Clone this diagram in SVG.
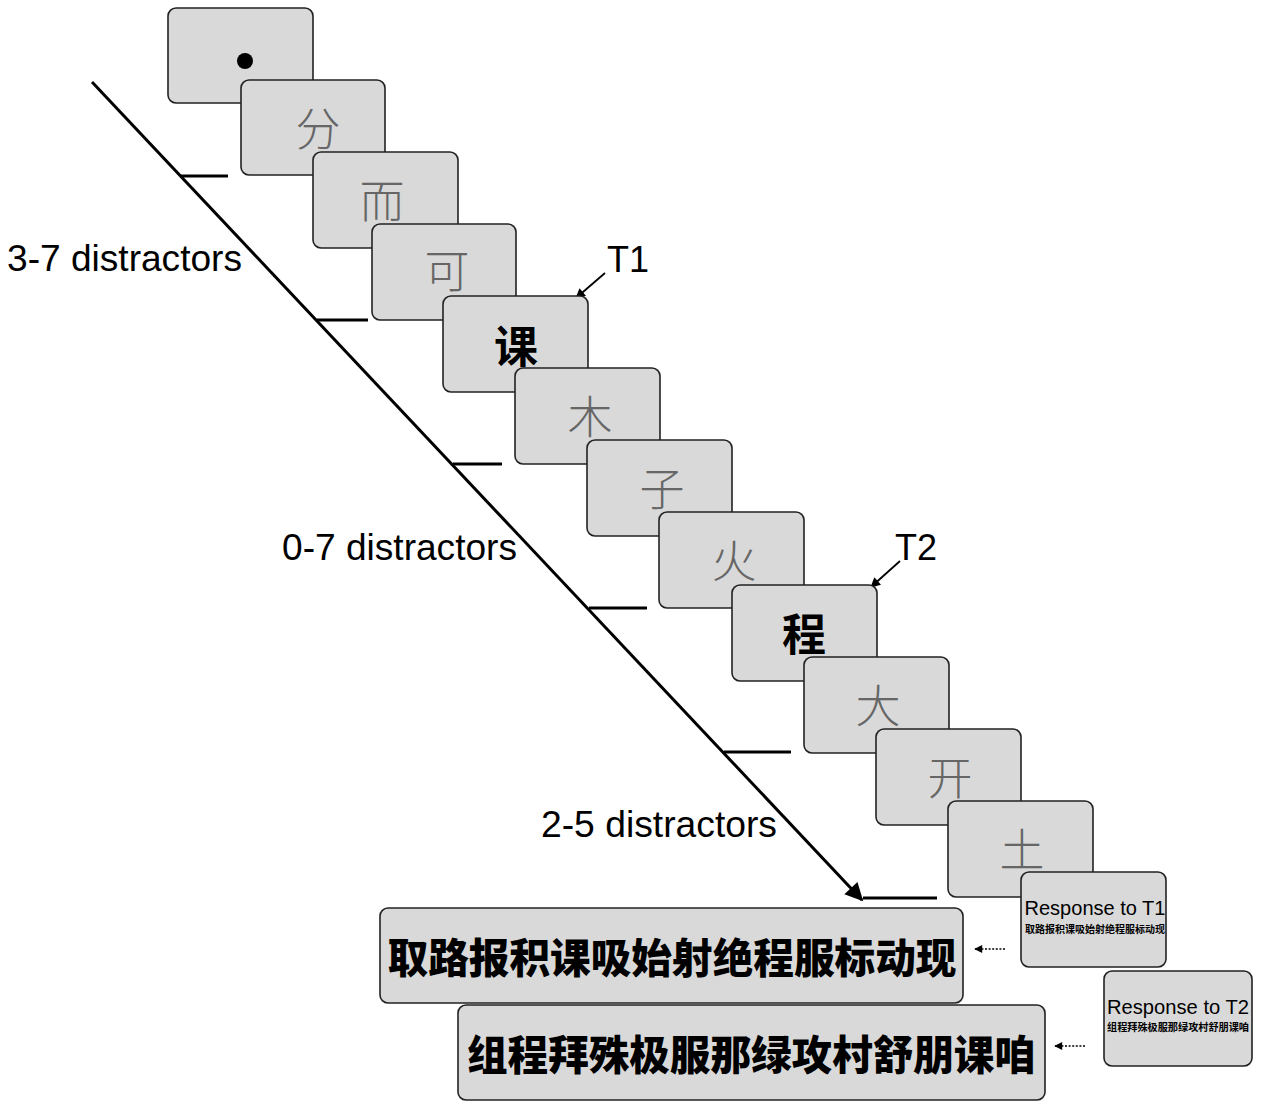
<svg xmlns="http://www.w3.org/2000/svg" width="1281" height="1109" viewBox="0 0 1281 1109">
<defs>
<style>
.box{fill:#d9d9d9;stroke:#222;stroke-width:1.6}
.d{font-family:"Noto Sans CJK SC","Noto Sans CJK JP",sans-serif;font-size:45px;fill:#666;font-weight:300;text-anchor:middle;dominant-baseline:central}
.t{font-family:"Noto Sans CJK SC","Noto Sans CJK JP",sans-serif;font-size:44px;fill:#000;font-weight:700;text-anchor:middle;dominant-baseline:central}
.lab{font-family:"Liberation Sans",Arial,sans-serif;font-size:36px;fill:#000}
.resp{font-family:"Liberation Sans",Arial,sans-serif;font-size:20px;fill:#000;text-anchor:middle}
.small{font-family:"Noto Sans CJK SC",sans-serif;font-size:10px;fill:#000;font-weight:700;text-anchor:middle}
.big{font-family:"Noto Sans CJK SC",sans-serif;font-size:40.6px;fill:#000;font-weight:900;text-anchor:middle;dominant-baseline:central}
.ln{stroke:#000;stroke-width:3;fill:none}
</style>
<marker id="ah" viewBox="0 0 10 10" refX="9" refY="5" markerWidth="22" markerHeight="18" markerUnits="userSpaceOnUse" orient="auto"><path d="M0,0 L10,5 L0,10 Z" fill="#000"/></marker>
<marker id="ahs" viewBox="0 0 10 10" refX="9" refY="5" markerWidth="12" markerHeight="10" markerUnits="userSpaceOnUse" orient="auto"><path d="M0,0 L10,5 L0,10 Z" fill="#000"/></marker>
<marker id="ahd" viewBox="0 0 10 10" refX="9" refY="5" markerWidth="10" markerHeight="8" markerUnits="userSpaceOnUse" orient="auto"><path d="M0,0 L10,5 L0,10 Z" fill="#000"/></marker>
</defs>
<rect width="1281" height="1109" fill="#fff"/>
<g id="connectors">
<line class="ln" x1="92" y1="82" x2="862" y2="900" marker-end="url(#ah)"/>
<line class="ln" x1="180" y1="176" x2="228" y2="176"/>
<line class="ln" x1="317" y1="320" x2="368" y2="320"/>
<line class="ln" x1="453" y1="464" x2="502" y2="464"/>
<line class="ln" x1="589" y1="608" x2="647" y2="608"/>
<line class="ln" x1="724" y1="752" x2="791" y2="752"/>
<line class="ln" x1="863" y1="898" x2="937" y2="898"/>
<line x1="605" y1="273" x2="576" y2="298" stroke="#000" stroke-width="1.8" marker-end="url(#ahs)"/>
<line x1="900" y1="561" x2="871" y2="587" stroke="#000" stroke-width="1.8" marker-end="url(#ahs)"/>
<line x1="1005" y1="949" x2="975" y2="949" stroke="#000" stroke-width="1.6" stroke-dasharray="2 1.6" marker-end="url(#ahd)"/>
<line x1="1085" y1="1046" x2="1055" y2="1046" stroke="#000" stroke-width="1.6" stroke-dasharray="2 1.6" marker-end="url(#ahd)"/>
</g>
<g id="fixation"><rect class="box" x="168" y="8" width="145" height="95" rx="8"/><circle cx="245" cy="61" r="8" fill="#000"/></g>
<g id="s1"><rect class="box" x="241" y="80" width="144" height="95" rx="8"/><text class="d" x="318" y="126">分</text></g>
<g id="s2"><rect class="box" x="313" y="152" width="145" height="96" rx="8"/><text class="d" x="382" y="198">而</text></g>
<g id="s3"><rect class="box" x="372" y="224" width="144" height="96" rx="8"/><text class="d" x="447" y="268">可</text></g>
<g id="t1box"><rect class="box" x="443" y="296" width="145" height="96" rx="8"/><text class="t" x="516" y="344">课</text></g>
<g id="s4"><rect class="box" x="515" y="368" width="145" height="96" rx="8"/><text class="d" x="590" y="414">木</text></g>
<g id="s5"><rect class="box" x="587" y="440" width="145" height="96" rx="8"/><text class="d" x="662" y="486">子</text></g>
<g id="s6"><rect class="box" x="659" y="512" width="145" height="96" rx="8"/><text class="d" x="734" y="558">火</text></g>
<g id="t2box"><rect class="box" x="732" y="585" width="145" height="96" rx="8"/><text class="t" x="804" y="632">程</text></g>
<g id="s7"><rect class="box" x="804" y="657" width="145" height="96" rx="8"/><text class="d" x="878" y="703">大</text></g>
<g id="s8"><rect class="box" x="876" y="729" width="145" height="96" rx="8"/><text class="d" x="950" y="775">开</text></g>
<g id="s9"><rect class="box" x="948" y="801" width="145" height="96" rx="8"/><text class="d" x="1022" y="847">土</text></g>
<g id="resp1"><rect class="box" x="1021" y="872" width="145" height="95" rx="8"/><text class="resp" x="1095" y="915" textLength="141" lengthAdjust="spacingAndGlyphs">Response to T1</text><text class="small" x="1095" y="933" textLength="140" lengthAdjust="spacingAndGlyphs">取路报积课吸始射绝程服标动现</text></g>
<g id="resp2"><rect class="box" x="1104" y="971" width="148" height="95" rx="8"/><text class="resp" x="1178" y="1014" textLength="142" lengthAdjust="spacingAndGlyphs">Response to T2</text><text class="small" x="1178" y="1031" textLength="142" lengthAdjust="spacingAndGlyphs">组程拜殊极服那绿攻村舒朋课咱</text></g>
<g id="ans1"><rect class="box" x="380" y="908" width="583" height="95" rx="8"/><text class="big" x="672" y="955" textLength="569" lengthAdjust="spacingAndGlyphs">取路报积课吸始射绝程服标动现</text></g>
<g id="ans2"><rect class="box" x="458" y="1005" width="587" height="95" rx="8"/><text class="big" x="751" y="1052" textLength="568" lengthAdjust="spacingAndGlyphs">组程拜殊极服那绿攻村舒朋课咱</text></g>
<g id="labels">
<text class="lab" x="7" y="271" textLength="235" lengthAdjust="spacingAndGlyphs">3-7 distractors</text>
<text class="lab" x="282" y="560" textLength="235" lengthAdjust="spacingAndGlyphs">0-7 distractors</text>
<text class="lab" x="541" y="837" textLength="236" lengthAdjust="spacingAndGlyphs">2-5 distractors</text>
<text class="lab" x="607" y="272">T1</text>
<text class="lab" x="895" y="560">T2</text>
</g>
</svg>
